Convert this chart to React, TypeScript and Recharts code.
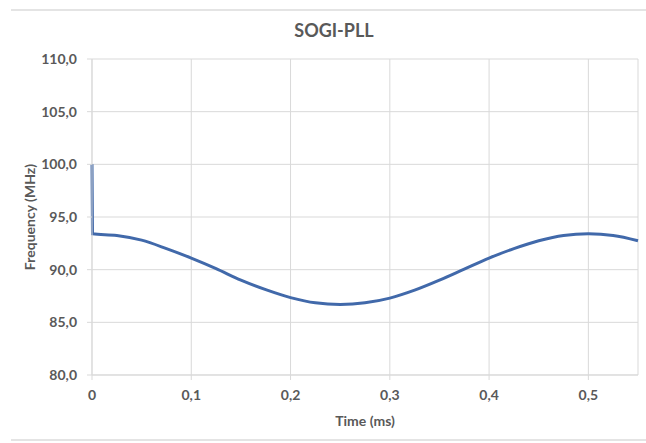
import React from "react";
import {
  LineChart,
  Line,
  XAxis,
  YAxis,
  CartesianGrid,
  Label,
} from "recharts";

// time in ms, frequency in MHz
const timeMs = [
  0, 0.0005, 0.025, 0.05, 0.075, 0.1, 0.125, 0.15, 0.175, 0.2, 0.225, 0.25,
  0.275, 0.3, 0.325, 0.35, 0.375, 0.4, 0.425, 0.45, 0.475, 0.5, 0.525, 0.55,
];
const freqMHz = [
  100.0, 93.4, 93.25, 92.8, 92.0, 91.1, 90.1, 89.0, 88.1, 87.35, 86.85, 86.7,
  86.85, 87.3, 88.05, 89.0, 90.05, 91.1, 92.0, 92.75, 93.25, 93.4, 93.25, 92.75,
];
const xTicks = [0, 0.1, 0.2, 0.3, 0.4, 0.5];
const yTicks = [80, 85, 90, 95, 100, 105, 110];

const data = timeMs.map((t, i) => ({ t, f: freqMHz[i] }));

const GRID = "#d9d9d9";
const TEXT = "#595959";
const FONT = "Lato, 'Open Sans', sans-serif";

const fmtX = (v: number) => (v === 0 ? "0" : v.toFixed(1).replace(".", ","));
const fmtY = (v: number) => v.toFixed(1).replace(".", ",");

const tickStyle = { fill: TEXT, fontSize: 14, fontWeight: 700, fontFamily: FONT };

export default function App() {
  return (
    <div style={{ position: "absolute", left: 0, top: 0, width: 646, height: 443, background: "#fff" }}>
      <div style={{ position: "absolute", left: 11, right: 0, top: 9, height: 0, borderTop: `2px solid #e4e4e4` }} />
      <div style={{ position: "absolute", left: 11, right: 0, top: 439, height: 0, borderTop: `2px solid #e4e4e4` }} />
      <div
        style={{
          position: "absolute",
          left: 0,
          width: 668,
          top: 19,
          textAlign: "center",
          fontFamily: FONT,
          fontWeight: 700,
          fontSize: 18,
          color: TEXT,
        }}
      >
        SOGI-PLL
      </div>
      <LineChart
        width={646}
        height={443}
        data={data}
        margin={{ top: 59, right: 8, bottom: 0, left: 0 }}
      >
        <CartesianGrid stroke={GRID} strokeWidth={1} />
        <XAxis
          dataKey="t"
          type="number"
          domain={[0, 0.55]}
          ticks={xTicks}
          tickFormatter={fmtX}
          stroke={GRID}
          tickSize={5}
          tickMargin={10}
          tick={tickStyle}
          height={68}
          interval={0}
        >
          <Label
            content={({ viewBox }: any) => (
              <text
                x={viewBox.x + viewBox.width / 2}
                y={viewBox.y + 51}
                textAnchor="middle"
                fill={TEXT}
                fontSize={14}
                fontWeight={700}
                fontFamily={FONT}
              >
                Time (ms)
              </text>
            )}
          />
        </XAxis>
        <YAxis
          type="number"
          domain={[80, 110]}
          ticks={yTicks}
          tickFormatter={fmtY}
          stroke={GRID}
          tickSize={5}
          tickMargin={10}
          tick={tickStyle}
          width={92}
          interval={0}
        >
          <Label
            content={({ viewBox }: any) => {
              const cx = 29;
              const cy = viewBox.y + viewBox.height / 2;
              return (
                <text
                  x={cx}
                  y={cy}
                  transform={`rotate(-90 ${cx} ${cy})`}
                  textAnchor="middle"
                  dominantBaseline="central"
                  fill={TEXT}
                  fontSize={14}
                  fontWeight={700}
                  fontFamily={FONT}
                >
                  Frequency (MHz)
                </text>
              );
            }}
          />
        </YAxis>
        <Line
          type="monotone"
          dataKey="f"
          stroke="#4169aa"
          strokeWidth={3}
          dot={false}
          isAnimationActive={false}
        />
      </LineChart>
    </div>
  );
}
